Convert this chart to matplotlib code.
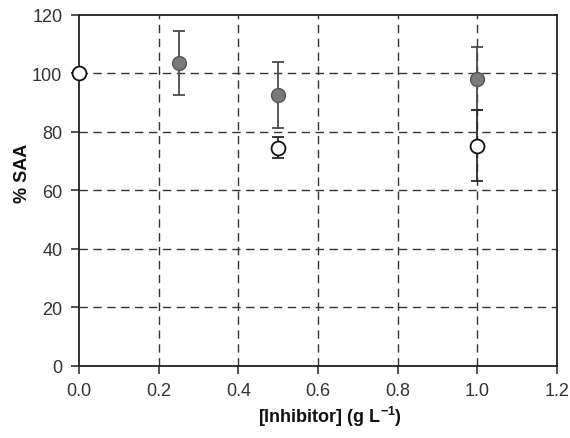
import matplotlib
matplotlib.use("Agg")
import matplotlib.pyplot as plt

plt.rcParams['font.family'] = ['Liberation Sans', 'DejaVu Sans']
plt.rcParams['mathtext.fontset'] = 'custom'
plt.rcParams['mathtext.rm'] = 'Liberation Sans'
plt.rcParams['mathtext.bf'] = 'Liberation Sans:bold'

# Grey (filled) series
grey_x = [0.25, 0.5, 1.0]
grey_y = [103.5, 92.6, 98.2]
grey_err = [10.8, 11.2, 10.8]

# White (open) series
white_x = [0.0, 0.5, 1.0]
white_y = [100.0, 74.5, 75.2]
white_err = [0.0, 3.6, 12.1]

xticks = [0.0, 0.2, 0.4, 0.6, 0.8, 1.0, 1.2]
yticks = [0, 20, 40, 60, 80, 100, 120]

fig = plt.figure(figsize=(5.70, 4.39), dpi=100)
ax = fig.add_axes([0.1386, 0.1647, 0.977 - 0.1386, 0.964 - 0.1647])

ax.set_xlim(0, 1.2)
ax.set_ylim(0, 120)
ax.set_xticks(xticks)
ax.set_yticks(yticks)
ax.set_xticklabels([f"{v:.1f}" for v in xticks])
ax.set_yticklabels([str(v) for v in yticks])

# interior dashed grid lines only
for xv in xticks[1:-1]:
    ax.axvline(xv, linestyle=(0, (6, 4)), color='#333333', linewidth=1.0, zorder=1)
for yv in yticks[1:-1]:
    ax.axhline(yv, linestyle=(0, (6, 4)), color='#333333', linewidth=1.0, zorder=1)

ax.errorbar(grey_x, grey_y, yerr=grey_err, fmt='o', color='#4a4a4a',
            markerfacecolor='#7a7a7a', markeredgecolor='#555555',
            markersize=10, capsize=4, elinewidth=1.3, capthick=1.3,
            clip_on=False, zorder=3)
ax.errorbar(white_x, white_y, yerr=white_err, fmt='o', color='#2a2a2a',
            markerfacecolor='white', markeredgecolor='#111111',
            markersize=10, capsize=4, elinewidth=1.3, capthick=1.3,
            markeredgewidth=1.3, clip_on=False, zorder=4)

for s in ax.spines.values():
    s.set_linewidth(1.3)
    s.set_color('#222222')
    s.set_zorder(2.5)

ax.tick_params(direction='out', length=6, width=1.1, labelsize=13,
               colors='#222222', pad=6)
for lab in ax.get_xticklabels() + ax.get_yticklabels():
    lab.set_color('#333333')

ax.text(0.525, -0.143, '[Inhibitor] (g L$^{\\mathbf{-1}}$)', transform=ax.transAxes,
        ha='center', va='center', fontsize=13, fontweight='bold', color='#111111')
ax.text(-0.119, 0.552, '% SAA', transform=ax.transAxes, rotation=90,
        ha='center', va='center', fontsize=13, fontweight='bold', color='#111111')

fig.savefig('out.png', dpi=100)
